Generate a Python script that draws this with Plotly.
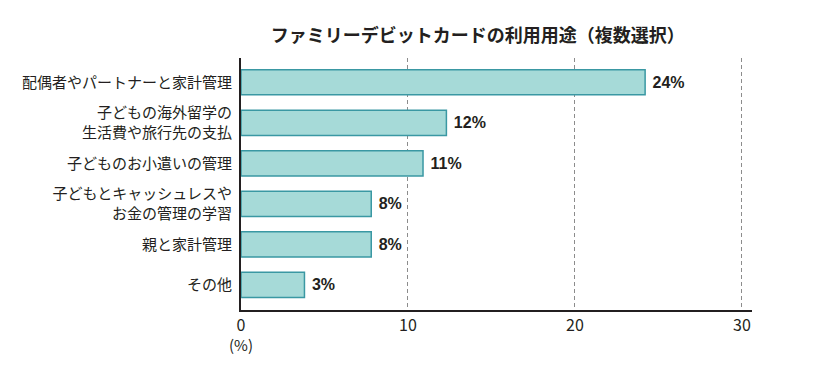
import plotly.graph_objects as go

categories = [
    "配偶者やパートナーと家計管理",
    "子どもの海外留学の<br>生活費や旅行先の支払",
    "子どものお小遣いの管理",
    "子どもとキャッシュレスや<br>お金の管理の学習",
    "親と家計管理",
    "その他",
]
values = [24.2, 12.3, 10.9, 7.8, 7.8, 3.8]
value_labels = ["24%", "12%", "11%", "8%", "8%", "3%"]
x_ticks = [0, 10, 20, 30]
title_text = "ファミリーデビットカードの利用用途（複数選択）"

JP = "Noto Sans CJK JP"
TXT = "#231f20"

fig = go.Figure(
    go.Bar(
        y=categories,
        x=values,
        orientation="h",
        width=0.62,
        marker=dict(color="#a6dad8", line=dict(color="#3a98a3", width=1.5)),
        text=value_labels,
        texttemplate=" %{text}",
        textposition="outside",
        textfont=dict(family="Liberation Sans, Arial, sans-serif", size=16, color=TXT, weight="bold"),
        cliponaxis=False,
        hoverinfo="skip",
    )
)

fig.update_layout(
    width=825,
    height=372,
    margin=dict(l=241, r=73, t=58, b=62),
    paper_bgcolor="white",
    plot_bgcolor="white",
    showlegend=False,
    title=dict(
        text=title_text,
        x=0.579,
        xanchor="center",
        y=1 - 36 / 372,
        yanchor="middle",
        font=dict(family=JP, size=18, color=TXT, weight="bold"),
    ),
    xaxis=dict(
        range=[0, 30.6],
        tickvals=x_ticks,
        ticktext=[str(v) for v in x_ticks],
        showgrid=True,
        gridcolor="#8c8c8c",
        gridwidth=1,
        griddash="4px,3px",
        zeroline=False,
        showline=True,
        linecolor="#231f20",
        linewidth=2,
        tickfont=dict(family=JP, size=16, color=TXT),
        ticks="",
        ticklabelstandoff=0,
    ),
    yaxis=dict(
        range=[5.62, -0.6],
        showgrid=False,
        zeroline=False,
        showline=True,
        linecolor="#231f20",
        linewidth=2,
        tickfont=dict(family=JP, size=15, color=TXT),
        ticks="",
        ticklabelstandoff=4,
    ),
    annotations=[
        dict(
            text="(%)",
            x=0,
            xref="x",
            y=-34 / 252,
            yref="paper",
            xanchor="center",
            yanchor="middle",
            showarrow=False,
            font=dict(family=JP, size=15, color=TXT),
        )
    ],
)

fig.write_html(
    "out.html",
    config={"displayModeBar": False},
    post_script="document.body.style.margin='0';document.body.style.overflow='hidden';",
)
